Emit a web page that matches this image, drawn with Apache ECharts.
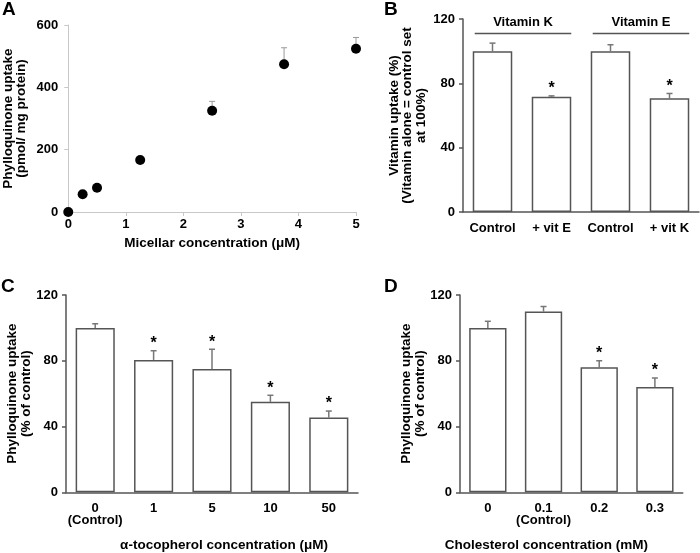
<!DOCTYPE html>
<html><head><meta charset="utf-8">
<script src="https://cdn.jsdelivr.net/npm/echarts@6/dist/echarts.min.js"></script>
<style>html,body{margin:0;padding:0;background:#fff}#c{width:700px;height:553px}</style>
</head><body><div id="c"></div>
<script>
// Panel A
const concA = [0, 0.25, 0.5, 1.25, 2.5, 3.75, 5];
const uptakeA = [0, 57, 78, 167, 325, 474, 524];
const errA = [0, 0, 0, 0, 30, 53, 36];
// Panel B
const labelsB = ['Control', '+ vit E', 'Control', '+ vit K'];
const valB = [100, 71.7, 100, 70.7];
const errB = [5, 0.5, 4, 3];
const sigB = [false, true, false, true];
const groupsB = ['Vitamin K', 'Vitamin E'];
const groupSpanB = [[0, 1], [2, 3]];
// Panel C
const labelsC = ['0\n(Control)', '1', '5', '10', '50'];
const valC = [100, 80.5, 75, 55, 45.4];
const errC = [2.5, 5.6, 12, 4, 4];
const sigC = [false, true, true, true, true];
// Panel D
const labelsD = ['0', '0.1\n(Control)', '0.2', '0.3'];
const valD = [100, 110, 76, 64];
const errD = [4, 3, 4, 5.5];
const sigD = [false, false, true, true];

const FONT = "'Liberation Sans', Arial, sans-serif";
const AX = '#555';
const chart = echarts.init(document.getElementById('c'));

function errSeriesXY(xi, xs, vals, errs, color, lw, cap) {
  return {
    type: 'custom', xAxisIndex: xi, yAxisIndex: xi, clip: false, z: 1, silent: true,
    data: vals.map((v, i) => [xs[i], v, errs[i]]),
    renderItem: function (params, api) {
      const e = api.value(2);
      if (!e) return null;
      const b = api.coord([api.value(0), api.value(1)]);
      const t = api.coord([api.value(0), api.value(1) + e]);
      const st = {stroke: color, lineWidth: lw};
      return {type: 'group', children: [
        {type: 'line', shape: {x1: b[0], y1: b[1], x2: t[0], y2: t[1]}, style: st},
        {type: 'line', shape: {x1: t[0] - cap, y1: t[1], x2: t[0] + cap, y2: t[1]}, style: st}
      ]};
    }
  };
}
function errSeries(xi, vals, errs, color, lw, cap) {
  return errSeriesXY(xi, vals.map((v, i) => i), vals, errs, color, lw, cap);
}
function starSeries(xi, vals, errs, sig) {
  return {
    type: 'custom', xAxisIndex: xi, yAxisIndex: xi, clip: false, z: 3, silent: true,
    data: vals.map((v, i) => [i, v + errs[i], sig[i] ? 1 : 0]),
    renderItem: function (params, api) {
      if (!api.value(2)) return null;
      const p = api.coord([api.value(0), api.value(1)]);
      return {type: 'text', x: p[0], y: p[1] + 1, style: {text: '*', fontSize: 16, fontWeight: 'bold', fontFamily: FONT, fill: '#000', align: 'center', verticalAlign: 'bottom'}};
    }
  };
}
function barSeries(xi, vals) {
  return {type: 'bar', xAxisIndex: xi, yAxisIndex: xi, data: vals, barWidth: '67%', z: 2, silent: true,
    itemStyle: {color: '#fff', borderColor: AX, borderWidth: 1.5}};
}
const tickLabel = {fontSize: 13, fontWeight: 'bold', fontFamily: FONT, color: '#000'};
const nameStyle = {fontSize: 13.5, fontWeight: 'bold', fontFamily: FONT, color: '#000', lineHeight: 13.5};

function catX(idx, data) {
  return {type: 'category', gridIndex: idx, data: data,
    axisLine: {lineStyle: {color: AX, width: 1.5}},
    axisTick: {alignWithLabel: true, length: 4, lineStyle: {color: AX, width: 1.5}},
    axisLabel: Object.assign({margin: 10, lineHeight: 12, interval: 0}, tickLabel),
    splitLine: {show: false}};
}
function valY(idx, name, gap) {
  return {type: 'value', gridIndex: idx, min: 0, max: 120, interval: 40,
    axisLine: {show: true, lineStyle: {color: AX, width: 1.5}},
    axisTick: {show: true, length: 4, lineStyle: {color: AX, width: 1.5}},
    axisLabel: Object.assign({margin: 8}, tickLabel),
    splitLine: {show: false},
    name: name, nameLocation: 'middle', nameGap: gap, nameRotate: 90, nameMoveOverlap: false,
    nameTextStyle: nameStyle};
}

const option = {
  animation: false,
  backgroundColor: '#fff',
  grid: [
    {left: 66, top: 25, width: 290, height: 187},
    {left: 463, top: 19, width: 236, height: 193},
    {left: 66, top: 295, width: 292, height: 198},
    {left: 460, top: 295, width: 230, height: 198}
  ],
  xAxis: [
    {type: 'value', gridIndex: 0, min: 0, max: 5, interval: 1,
      axisLine: {show: true, lineStyle: {color: '#c8c8c8', width: 1}},
      axisTick: {show: true, length: 4, lineStyle: {color: '#c8c8c8'}},
      axisLabel: Object.assign({margin: 6}, tickLabel),
      splitLine: {show: false},
      name: 'Micellar concentration (μM)', nameLocation: 'middle', nameGap: 25, nameMoveOverlap: false,
      nameTextStyle: nameStyle},
    catX(1, labelsB),
    Object.assign(catX(2, labelsC), {name: 'α-tocopherol concentration (μM)', nameLocation: 'middle', nameGap: 46, nameMoveOverlap: false, nameTextStyle: Object.assign({padding: [0, 0, 0, 24]}, nameStyle)}),
    Object.assign(catX(3, labelsD), {name: 'Cholesterol concentration (mM)', nameLocation: 'middle', nameGap: 46, nameMoveOverlap: false, nameTextStyle: Object.assign({padding: [0, 50, 0, 0]}, nameStyle)})
  ],
  yAxis: [
    {type: 'value', gridIndex: 0, min: 0, max: 600, interval: 200,
      axisLine: {show: true, lineStyle: {color: '#c8c8c8', width: 1}},
      axisTick: {show: true, length: 4, lineStyle: {color: '#c8c8c8'}},
      axisLabel: Object.assign({margin: 10}, tickLabel),
      splitLine: {show: false},
      name: 'Phylloquinone uptake\n(pmol/ mg protein)', nameLocation: 'middle', nameGap: 40, nameRotate: 90, nameMoveOverlap: false,
      nameTextStyle: nameStyle},
    valY(1, 'Vitamin uptake (%)\n(Vitamin alone = control set\nat 100%)', 35),
    valY(2, 'Phylloquinone uptake\n(% of control)', 33),
    valY(3, 'Phylloquinone uptake\n(% of control)', 33)
  ],
  graphic: [
    {type: 'text', left: 2, top: 0, style: {text: 'A', fontSize: 19, fontWeight: 'bold', fontFamily: FONT, fill: '#000'}},
    {type: 'text', left: 384, top: 0, style: {text: 'B', fontSize: 19, fontWeight: 'bold', fontFamily: FONT, fill: '#000'}},
    {type: 'text', left: 1, top: 277, style: {text: 'C', fontSize: 19, fontWeight: 'bold', fontFamily: FONT, fill: '#000'}},
    {type: 'text', left: 384, top: 277, style: {text: 'D', fontSize: 19, fontWeight: 'bold', fontFamily: FONT, fill: '#000'}}
  ],
  series: [
    errSeriesXY(0, concA, uptakeA, errA, '#999', 1, 3),
    {type: 'scatter', xAxisIndex: 0, yAxisIndex: 0, data: concA.map((x, i) => [x, uptakeA[i]]),
      symbolSize: 10, itemStyle: {color: '#000', opacity: 1}, clip: false, z: 3, silent: true},
    errSeries(1, valB, errB, '#777', 1.5, 3),
    barSeries(1, valB),
    starSeries(1, valB, errB, sigB),
    {type: 'custom', xAxisIndex: 1, yAxisIndex: 1, clip: false, silent: true, z: 3,
      data: groupSpanB.map(s => [s[0], s[1]]),
      renderItem: function (params, api) {
        const a = api.coord([api.value(0), 111]);
        const b = api.coord([api.value(1), 111]);
        const t = api.coord([api.value(0), 118]);
        const hw = api.size([1, 0])[0] * 0.67 / 2;
        const x1 = a[0] - hw * 0.9, x2 = b[0] + hw;
        return {type: 'group', children: [
          {type: 'line', shape: {x1: x1, y1: a[1], x2: x2, y2: a[1]}, style: {stroke: AX, lineWidth: 1.5}},
          {type: 'text', x: (x1 + x2) / 2, y: t[1], style: {text: groupsB[params.dataIndex], fontSize: 13, fontWeight: 'bold', fontFamily: FONT, fill: '#000', align: 'center', verticalAlign: 'middle'}}
        ]};
      }},
    errSeries(2, valC, errC, '#777', 1.5, 3),
    barSeries(2, valC),
    starSeries(2, valC, errC, sigC),
    errSeries(3, valD, errD, '#777', 1.5, 3),
    barSeries(3, valD),
    starSeries(3, valD, errD, sigD)
  ]
};
chart.setOption(option);
</script></body></html>
